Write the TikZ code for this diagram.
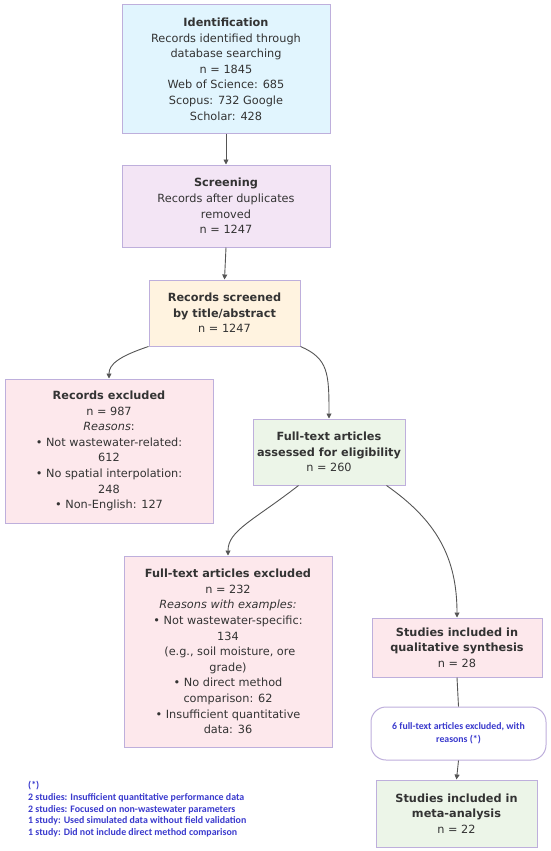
\documentclass[tikz,border=0pt]{standalone}
\usepackage{fontspec}
\setmainfont{DejaVu Sans}
\newfontfamily\notefont{Carlito}
\usetikzlibrary{arrows.meta,calc}
\definecolor{bordc}{RGB}{190,175,220}
\definecolor{txtc}{RGB}{51,51,51}
\definecolor{linec}{RGB}{85,85,85}
\definecolor{bluec}{RGB}{225,245,254}
\definecolor{lavc}{RGB}{243,229,245}
\definecolor{creamc}{RGB}{255,243,224}
\definecolor{pinkc}{RGB}{253,232,236}
\definecolor{greenc}{RGB}{236,245,232}
\definecolor{noteblue}{RGB}{58,58,205}
\begin{document}
\begin{tikzpicture}[x=1pt,y=-1pt,
  box/.style={draw=bordc,line width=1pt,text=txtc,align=center,inner sep=0pt,
    font=\fontsize{11.3}{15.6}\selectfont},
  conn/.style={draw=linec,line width=0.9pt,-{Triangle[length=5pt,width=5pt]}},
  plain/.style={draw=linec,line width=0.9pt},
  notetext/.style={text=noteblue,font=\notefont\bfseries\fontsize{9.9}{11.8}\selectfont}]
\useasboundingbox (0,0) rectangle (550,851);
\node[box,fill=bluec,minimum width=208pt,minimum height=128pt] (b1) at (226,69)
 {\textbf{Identification}\\Records identified through\\database searching\\n = 1845\\Web of Science: 685\\Scopus: 732 Google\\Scholar: 428};
\node[box,fill=lavc,minimum width=208pt,minimum height=82pt] (b2) at (226,206)
 {\textbf{Screening}\\Records after duplicates\\removed\\n = 1247};
\node[box,fill=creamc,minimum width=151pt,minimum height=66pt] (b3) at (224.5,313)
 {\textbf{Records screened}\\\textbf{by title/abstract}\\n = 1247};
\node[box,fill=pinkc,minimum width=208pt,minimum height=144pt] (b4) at (109,451)
 {\textbf{Records excluded}\\n = 987\\\textit{Reasons}:\\• Not wastewater-related:\\612\\• No spatial interpolation:\\248\\• Non-English: 127};
\node[box,fill=greenc,minimum width=152pt,minimum height=66pt] (b5) at (329,452)
 {\textbf{Full-text articles}\\\textbf{assessed for eligibility}\\n = 260};
\node[box,fill=pinkc,minimum width=208pt,minimum height=191pt] (b6) at (228,651.5)
 {\textbf{Full-text articles excluded}\\n = 232\\\textit{Reasons with examples:}\\• Not wastewater-specific:\\134\\\ (e.g., soil moisture, ore\\grade)\\• No direct method\\comparison: 62\\• Insufficient quantitative\\data: 36};
\node[box,fill=pinkc,minimum width=170pt,minimum height=59pt] (b7) at (457,647.5)
 {\textbf{Studies included in}\\\textbf{qualitative synthesis}\\n = 28};
\node[box,fill=white,rounded corners=15pt,minimum width=175pt,minimum height=53pt,
  notetext,font=\notefont\bfseries\fontsize{9.8}{13}\selectfont] (b8) at (458.5,733.5)
 {6 full-text articles excluded, with\\reasons (*)};
\node[box,fill=greenc,minimum width=161pt,minimum height=67pt] (b9) at (456.5,813.5)
 {\textbf{Studies included in}\\\textbf{meta-analysis}\\n = 22};
\node[notetext,align=left,anchor=north west,inner sep=0pt] (note) at (28,781)
 {(*)\\2 studies: Insufficient quantitative performance data\\2 studies: Focused on non-wastewater parameters\\1 study: Used simulated data without field validation\\1 study: Did not include direct method comparison};
\coordinate (s56) at ($(b5.south west)+(46,0)$);
\coordinate (s57) at ($(b5.south east)+(-19,0)$);
\draw[conn] (b1.south) -- (b2.north);
\draw[conn] (b2.south) -- (b3.north);
\draw[conn] (b3.south west) .. controls ++(-30,10) and ++(0,-14) .. (b4.north);
\draw[conn] (b3.south east) .. controls ++(28,12) and ++(0,-45) .. (b5.north);
\draw[conn] (s56) .. controls ++(-45,35) and ++(0,-25) .. (b6.north);
\draw[conn] (s57) .. controls ++(50,35) and ++(0,-60) .. (b7.north);
\draw[plain] (b7.south) -- (b8.north);
\draw[conn] (b8.south) -- (b9.north);
\end{tikzpicture}
\end{document}
